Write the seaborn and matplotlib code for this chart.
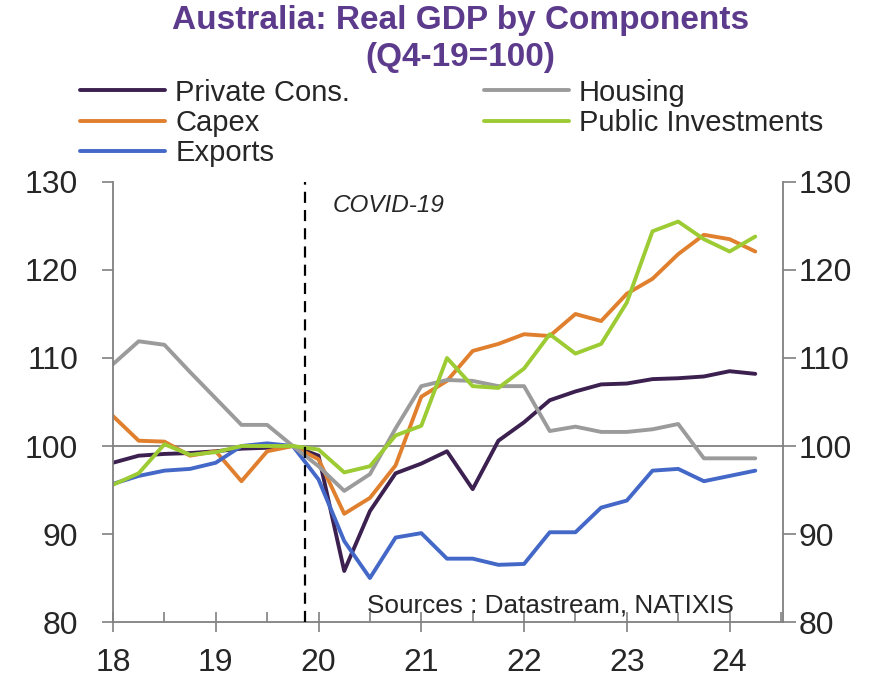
import matplotlib
matplotlib.use("Agg")
import matplotlib.pyplot as plt
from matplotlib.ticker import FixedLocator, NullFormatter
import seaborn as sns
import pandas as pd

# Quarterly real GDP components, Q4-19 = 100 (Q1-18 .. Q2-24)
quarters = [f"Q{q}-{y}" for y in range(18, 25) for q in range(1, 5)][:26]

private_cons = [98.1, 98.9, 99.1, 99.2, 99.4, 99.7, 99.8, 100.0, 98.9, 85.8,
                92.6, 96.9, 98.0, 99.4, 95.1, 100.6, 102.7, 105.2, 106.2, 107.0,
                107.1, 107.6, 107.7, 107.9, 108.5, 108.2]
housing = [109.3, 111.9, 111.5, 108.4, 105.4, 102.4, 102.4, 100.0, 97.7, 94.9,
           96.8, 102.0, 106.8, 107.5, 107.4, 106.8, 106.8, 101.7, 102.2, 101.6,
           101.6, 101.9, 102.5, 98.6, 98.6, 98.6]
capex = [103.4, 100.6, 100.5, 98.9, 99.4, 96.0, 99.4, 100.0, 98.5, 92.3,
         94.1, 97.8, 105.6, 107.4, 110.8, 111.6, 112.7, 112.5, 115.0, 114.2,
         117.3, 119.0, 121.8, 124.0, 123.5, 122.1]
public_inv = [95.6, 96.9, 100.2, 99.0, 99.3, 100.0, 100.0, 100.0, 99.6, 97.0,
              97.7, 101.2, 102.3, 110.0, 106.8, 106.6, 108.8, 112.7, 110.5, 111.6,
              116.3, 124.4, 125.5, 123.5, 122.1, 123.8]
exports = [95.7, 96.6, 97.2, 97.4, 98.1, 100.0, 100.3, 100.0, 96.2, 89.2,
           85.0, 89.6, 90.1, 87.2, 87.2, 86.5, 86.6, 90.2, 90.2, 93.0,
           93.8, 97.2, 97.4, 96.0, 96.6, 97.2]

series_names = ["Private Cons.", "Capex", "Exports", "Housing", "Public Investments"]
series_values = [private_cons, capex, exports, housing, public_inv]
colors = ["#3b2050", "#e0802e", "#4468c8", "#9b9b9b", "#9ccb34"]

year_ticks = [2018, 2019, 2020, 2021, 2022, 2023, 2024]
year_labels = ["18", "19", "20", "21", "22", "23", "24"]
y_ticks = [80, 90, 100, 110, 120, 130]

# decimal-year position of each quarter
t = [2018 + 0.25 * i for i in range(len(quarters))]
rows = []
for name, vals in zip(series_names, series_values):
    for q, x, v in zip(quarters, t, vals):
        rows.append({"quarter": q, "t": x, "value": v, "series": name})
df = pd.DataFrame(rows)

sns.set_style("white")
plt.rcParams["font.family"] = ["Liberation Sans", "DejaVu Sans"]

fig = plt.figure(figsize=(8.74, 6.77), dpi=100)
ax = fig.add_axes([0.1293, 0.0812, 0.7666, 0.6500])

sns.lineplot(data=df, x="t", y="value", hue="series", hue_order=series_names,
             palette=dict(zip(series_names, colors)), linewidth=2.8,
             sort=False, ax=ax, legend=True)

ax.axhline(100, color="#808080", lw=1.3, zorder=0.5)
ax.axvline(2019.87, color="black", lw=1.6, ls=(0, (5, 3.2)), zorder=3)

ax.set_xlim(2018, 2024.52)
ax.set_ylim(80, 130)
ax.set_xlabel("")
ax.set_ylabel("")

grey = "#808080"
for side in ["left", "right", "bottom"]:
    ax.spines[side].set_visible(True)
    ax.spines[side].set_color(grey)
    ax.spines[side].set_linewidth(1.3)
ax.spines["top"].set_visible(False)

ax.xaxis.set_major_locator(FixedLocator(year_ticks))
ax.set_xticklabels(year_labels)
ax.xaxis.set_minor_locator(FixedLocator([y + 0.5 for y in year_ticks]))
ax.xaxis.set_minor_formatter(NullFormatter())
ax.tick_params(axis="x", which="major", direction="inout", length=14, width=1.2,
               color=grey, labelsize=23, pad=12, bottom=True)
ax.tick_params(axis="x", which="minor", direction="in", length=7, width=1.2,
               color=grey, bottom=True)

ax.set_yticks(y_ticks)
ax.tick_params(axis="y", which="major", direction="out", length=8, width=1.2,
               color=grey, labelsize=23, pad=17, left=True)

ax2 = ax.twinx()
ax2.set_ylim(ax.get_ylim())
ax2.set_yticks(y_ticks)
ax2.tick_params(axis="y", direction="out", length=9, width=1.2, color=grey,
                labelsize=23, pad=2, right=True)
for side in ["left", "right", "bottom", "top"]:
    ax2.spines[side].set_visible(False)

ax.text(2018 + 220 / 102.7, 127.3, "COVID-19", fontsize=17.5, style="italic",
        ha="left", va="center")
ax.text(2018 + 254 / 102.7, 81.9, "Sources : Datastream, NATIXIS", fontsize=18.8,
        ha="left", va="center")

handles, labels = ax.get_legend_handles_labels()
ax.get_legend().remove()
fig.legend(handles, labels, ncol=2, loc="upper left",
           bbox_to_anchor=(0.092, 0.884), frameon=False, fontsize=21,
           handlelength=2.9, handletextpad=0.35, labelspacing=0.08,
           columnspacing=4.6, borderpad=0, borderaxespad=0)

fig.text(0.527, 0.970, "Australia: Real GDP by Components", ha="center",
         va="center", fontsize=24, fontweight="bold", color="#5d3b8c")
fig.text(0.527, 0.915, "(Q4-19=100)", ha="center", va="center", fontsize=24,
         fontweight="bold", color="#5d3b8c")

fig.savefig("out.png", dpi=100)
